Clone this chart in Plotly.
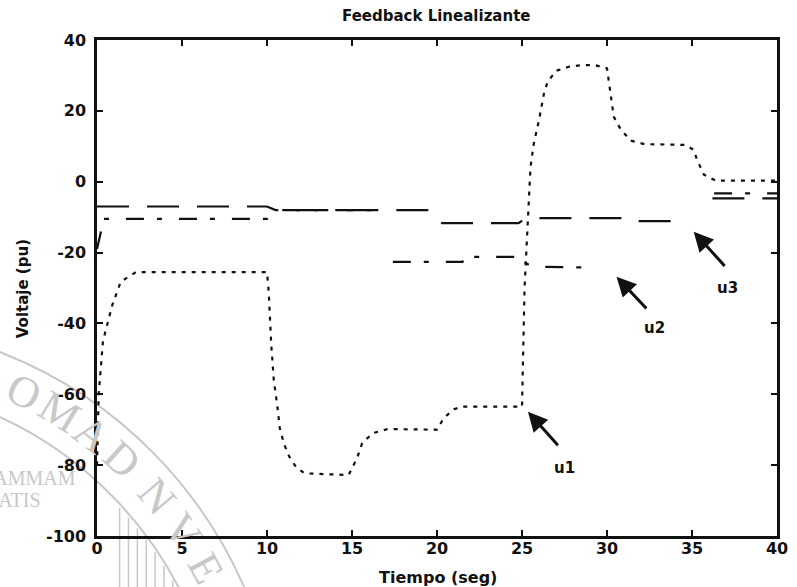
import math
import plotly.graph_objects as go

TITLE = "Feedback Linealizante"
X_LABEL = "Tiempo (seg)"
Y_LABEL = "Voltaje (pu)"

x_ticks = [0, 5, 10, 15, 20, 25, 30, 35, 40]
x_tick_text = ["0", "5", "10", "15", "20", "25", "30", "35", "40"]
y_ticks = [-100, -80, -60, -40, -20, 0, 20, 40]
y_tick_text = ["-100", "-80", "-60", "-40", "-20", "0", "20", "40"]

# u1 control signal (dotted)
t_u1 = [0.0, 0.1, 0.35, 0.9, 1.4, 2.3, 10.0, 10.1, 10.25, 10.4, 10.6, 10.75, 11.0, 11.3,
        11.7, 12.2, 14.8, 15.3, 15.6, 16.2, 17.1, 20.0, 20.4, 21.0, 21.5, 25.0, 25.15,
        25.4, 25.5, 25.7, 26.0, 26.3, 26.5, 27.0, 27.8, 28.5, 29.3, 30.0, 30.1, 30.4,
        30.8, 31.4, 32.2, 34.6, 35.1, 35.3, 35.7, 36.4, 40.0]
u1 = [-80.0, -60.0, -45.0, -34.8, -28.2, -25.5, -25.5, -31.0, -46.0, -56.0, -63.0, -69.5,
      -74.0, -77.5, -80.5, -82.3, -82.8, -78.0, -73.8, -71.0, -69.8, -70.0, -66.7, -64.2,
      -63.5, -63.5, -30.0, -5.0, 4.2, 10.9, 17.4, 25.1, 28.1, 31.3, 32.5, 32.9, 32.9, 32.0,
      28.2, 18.3, 14.8, 11.6, 10.6, 10.4, 9.0, 6.1, 2.0, 0.3, 0.3]

# u2 control signal (dash-dot)
t_u2 = [0.0, 0.4, 10.0, 10.4, 10.8, 17.0, None, 17.4, 21.5, 21.7, 24.9, 25.1, 25.6, 29.0,
        None, 36.3, 40.0]
u2 = [-19.0, -10.5, -10.5, -9.4, -8.0, -8.0, None, -22.6, -22.6, -21.2, -21.2, -22.6,
      -24.0, -24.2, None, -3.3, -3.3]

# u3 control signal (dashed)
t_u3 = [0.0, 10.0, 10.5, 19.5, 20.3, 24.8, 25.2, 31.3, 31.6, 34.8, None, 36.2, 40.0]
u3 = [-7.0, -7.0, -8.0, -8.0, -11.7, -11.7, -10.3, -10.3, -11.1, -11.1, None, -4.7, -4.7]

# curve labels and their arrows
labels = ["u1", "u2", "u3"]
label_t = [27.5, 32.8, 37.1]
label_v = [-80.8, -41.4, -30.1]
head_t = [25.35, 30.56, 35.1]
head_v = [-64.9, -26.8, -14.1]
tail_t = [27.19, 32.4, 37.0]
tail_v = [-74.8, -36.2, -24.2]

INK = "#111111"
SEAL = "#c8c8c8"
TICK_FONT = dict(family="DejaVu Sans", size=16, color=INK, weight="bold")

fig = go.Figure()
fig.add_trace(go.Scatter(x=t_u1, y=u1, mode="lines", name="u1",
                         line=dict(color=INK, width=2.2, dash="4px,6px")))
fig.add_trace(go.Scatter(x=t_u2, y=u2, mode="lines", name="u2", connectgaps=False,
                         line=dict(color=INK, width=2.2, dash="18px,13px,5px,17px")))
fig.add_trace(go.Scatter(x=t_u3, y=u3, mode="lines", name="u3", connectgaps=False,
                         line=dict(color=INK, width=2.2, dash="32px,18px")))

annotations = []
for lab, lt, lv, ht, hv, tt, tv in zip(labels, label_t, label_v, head_t, head_v, tail_t, tail_v):
    annotations.append(dict(x=ht, y=hv, ax=tt, ay=tv, xref="x", yref="y", axref="x", ayref="y",
                            text="", showarrow=True, arrowhead=2, arrowsize=1.3,
                            arrowwidth=3, arrowcolor=INK, standoff=0, startstandoff=0))
    annotations.append(dict(x=lt, y=lv, xref="x", yref="y", text=lab, showarrow=False,
                            font=dict(family="DejaVu Sans", size=15, color=INK, weight="bold")))

# page-pixel helpers for paper-positioned items
L, R, T, B = 97, 788, 40, 536
def px(xp):
    return (xp - L) / (R - L)
def py(yp):
    return (B - yp) / (B - T)

def page_text(x, y, text, size, angle=0):
    return dict(x=px(x), y=py(y), xref="paper", yref="paper", text=text, textangle=angle,
                xanchor="center", yanchor="middle", showarrow=False,
                font=dict(family="DejaVu Sans", size=size, color=INK, weight="bold"))

annotations.append(page_text(442, 16, TITLE, 15))
annotations.append(page_text(444, 577, X_LABEL, 16))
annotations.append(page_text(22, 289, Y_LABEL, 15, -90))

# faint university seal in the lower-left corner
shapes = []
cx, cy = -160, 768
for r in [445, 385]:
    shapes.append(dict(type="circle", xref="paper", yref="paper", layer="below",
                       x0=px(cx - r), x1=px(cx + r), y0=py(cy + r), y1=py(cy - r),
                       line=dict(color=SEAL, width=2)))
for xx in range(120, 205, 9):
    top = cy - math.sqrt(max(385 ** 2 - (xx - cx) ** 2, 0))
    shapes.append(dict(type="line", xref="paper", yref="paper", layer="below",
                       x0=px(xx), x1=px(xx), y0=py(top + 4), y1=py(587),
                       line=dict(color=SEAL, width=1.5)))
seal_letters = ["O", "M", "A", "D", "N", "V", "E", "V"]
seal_angle = [26, 31.5, 37, 42.5, 49.5, 55.5, 61.5, 67.5]
for ch, a in zip(seal_letters, seal_angle):
    rad = math.radians(a)
    sx = cx + 418 * math.sin(rad)
    sy = cy - 418 * math.cos(rad)
    annotations.append(dict(x=px(sx), y=py(sy), xref="paper", yref="paper", text=ch,
                            textangle=a, xanchor="center", yanchor="middle", showarrow=False,
                            font=dict(family="Liberation Serif", size=44, color=SEAL)))
annotations.append(dict(x=px(78), y=py(478), xref="paper", yref="paper", text="FLAMMAM",
                        xanchor="right", yanchor="middle", showarrow=False,
                        font=dict(family="Liberation Serif", size=20, color=SEAL)))
annotations.append(dict(x=px(42), y=py(500), xref="paper", yref="paper", text="VERITATIS",
                        xanchor="right", yanchor="middle", showarrow=False,
                        font=dict(family="Liberation Serif", size=20, color=SEAL)))

axis_common = dict(showline=True, linecolor=INK, linewidth=2.5, mirror="allticks",
                   ticks="inside", ticklen=6, tickwidth=2, tickcolor=INK,
                   showgrid=False, zeroline=False, tickfont=TICK_FONT)

fig.update_layout(
    width=797, height=587,
    margin=dict(l=L, r=797 - R, t=T, b=587 - B),
    paper_bgcolor="white", plot_bgcolor="rgba(0,0,0,0)",
    showlegend=False,
    xaxis=dict(range=[0, 40], tickvals=x_ticks, ticktext=x_tick_text,
               ticklabelstandoff=-4, **axis_common),
    yaxis=dict(range=[-100, 40], tickvals=y_ticks, ticktext=y_tick_text,
               ticklabelstandoff=5, **axis_common),
    annotations=annotations,
    shapes=shapes,
)

fig.write_html("out.html")
